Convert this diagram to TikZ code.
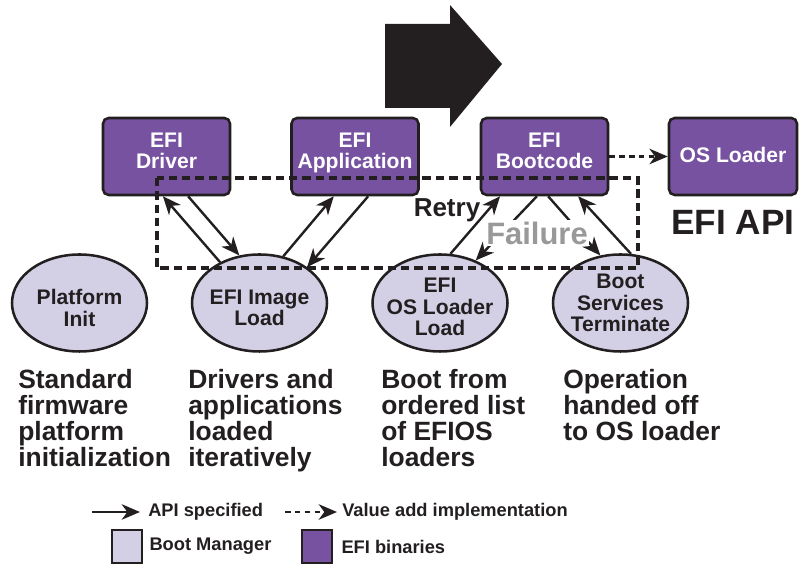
\documentclass[tikz,border=0pt]{standalone}
\usepackage{fontspec}
\setmainfont{Liberation Sans}
\usetikzlibrary{arrows.meta,shapes.geometric,positioning}

\definecolor{efipurple}{HTML}{7752A0}
\definecolor{bootlav}{HTML}{D3D0E6}
\definecolor{ink}{HTML}{231F20}
\definecolor{failgray}{HTML}{999999}

\tikzset{
    binbox/.style={draw=ink, line width=1.8pt, fill=efipurple, rounded corners=4pt,
        minimum width=3.175cm, minimum height=1.925cm, inner sep=0pt},
    bintxt/.style={text=white, align=center, inner sep=0pt,
        font=\fontsize{15}{15}\selectfont\bfseries},
    mgrell/.style={ellipse, draw=ink, line width=1.8pt, fill=bootlav,
        minimum width=3.375cm, minimum height=2.425cm, inner sep=0pt},
    mgrtxt/.style={text=ink, align=center, inner sep=0pt,
        font=\fontsize{15}{15.2}\selectfont\bfseries},
    desc/.style={anchor=north west, align=left, inner sep=0pt, text=ink,
        font=\fontsize{18.8}{18.5}\selectfont\bfseries},
    api/.style={draw=ink, line width=1.7pt, -{Stealth[length=13pt,width=11pt,inset=4pt]}},
    valueadd/.style={api, dash pattern=on 4pt off 3pt},
    grpbox/.style={draw=ink, line width=2.4pt, dash pattern=on 6pt off 3.5pt},
    legtxt/.style={inner sep=0pt, text=ink, font=\fontsize{13}{13}\selectfont\bfseries},
    legsq/.style={draw=ink, line width=1.8pt, minimum width=0.75cm, minimum height=0.825cm}
}

\begin{document}
\begin{tikzpicture}

        \useasboundingbox (0,0) rectangle (20.025,14.125);

        % big arrow
        \fill[ink] (9.625,13.525) -- (11.25,13.525) -- (11.25,14.0) -- (12.55,12.525)
        -- (11.25,10.95) -- (11.25,11.425) -- (9.625,11.425) -- cycle;

        % EFI binaries
        \node[binbox, label={[bintxt, yshift=0.13cm]center:EFI\\Driver}] (drv) at (4.1625,10.2125) {};
        \node[binbox, label={[bintxt, yshift=0.09cm]center:EFI\\Application}] (app) at (8.875,10.2125) {};
        \node[binbox, label={[bintxt, yshift=0.13cm]center:EFI\\Bootcode}] (boot) at (13.6125,10.2125) {};
        \node[binbox, minimum width=3.2cm, label={[bintxt, yshift=0.04cm]center:OS Loader}] (osldr) at (18.325,10.2125) {};

        \node[inner sep=0pt, text=ink, font=\fontsize{25}{25}\selectfont\bfseries,
        below=0.35cm of osldr] (efiapi) {EFI API};

        % boot manager
        \node[mgrell, label={[mgrtxt, yshift=-0.12cm]center:Platform\\Init}] (pinit) at (1.9875,6.55) {};
        \node[mgrell, label={[mgrtxt, yshift=-0.12cm]center:EFI Image\\Load}] (imgload) at (6.4875,6.55) {};
        \node[mgrell, label={[mgrtxt, yshift=-0.1cm]center:EFI\\OS Loader\\Load}] (osload) at (11.0,6.55) {};
        \node[mgrell, label={[mgrtxt]center:Boot\\Services\\Terminate}] (bstop) at (15.5125,6.55) {};

        % #######################################

        \draw[api] (imgload.134) -- ([xshift=-0.09cm]drv.south);
        \draw[api] ([xshift=0.54cm]drv.south) -- (imgload.113);

        \draw[api] (imgload.63) -- ([xshift=-0.53cm]app.south);
        \draw[api] ([xshift=0.33cm]app.south) -- (imgload.37);

        \draw[api] (osload.78) -- ([xshift=-1.11cm]boot.south);
        \draw[api] ([xshift=-0.19cm]boot.south) -- (osload.50);

        \draw[api] ([xshift=0.09cm]boot.south) -- (bstop.113);
        \draw[api] (bstop.78) -- ([xshift=0.84cm]boot.south);

        \draw[valueadd] (boot.east) -- (osldr.west);

        \node[text=ink, inner sep=0pt, font=\fontsize{18.5}{18.5}\selectfont\bfseries]
        (retry) at (11.175,8.875) {Retry};
        \node[fill=white, inner sep=1pt, text=failgray, font=\fontsize{22}{22}\selectfont\bfseries]
        (fail) at (13.425,8.3) {Failure};

        \draw[grpbox] (3.925,9.675) rectangle (15.95,7.425);

        % #######################################

        \node[desc] (pinitdesc) at (0.45,4.9) {Standard\\firmware\\platform\\initialization};
        \node[desc] (imgdesc) at (4.7,4.9) {Drivers and\\applications\\loaded\\iteratively};
        \node[desc] (osdesc) at (9.525,4.9) {Boot from\\ordered list\\of EFIOS\\loaders};
        \node[desc] (bsdesc) at (14.075,4.9) {Operation\\handed off\\to OS loader};

        % legend
        \coordinate (apistart) at (2.3,1.325);
        \node[legtxt, anchor=west] (apitxt) at (3.7,1.325) {API specified};
        \draw[api, shorten >=0.2cm] (apistart) -- (apitxt.west);

        \coordinate (vastart) at (7.125,1.325);
        \node[legtxt, anchor=west] (vatxt) at (8.55,1.325) {Value add implementation};
        \draw[valueadd, shorten >=0.125cm] (vastart) -- (vatxt.west);

        \node[legsq, fill=bootlav] (bmsq) at (3.175,0.4625) {};
        \node[legtxt, right=0.15cm of bmsq] (bmtxt) {Boot Manager};

        \node[legsq, fill=efipurple] (binsq) at (7.925,0.4625) {};
        \node[legtxt, right=0.2cm of binsq] (bintxt) {EFI binaries};

    \end{tikzpicture}
\end{document}
